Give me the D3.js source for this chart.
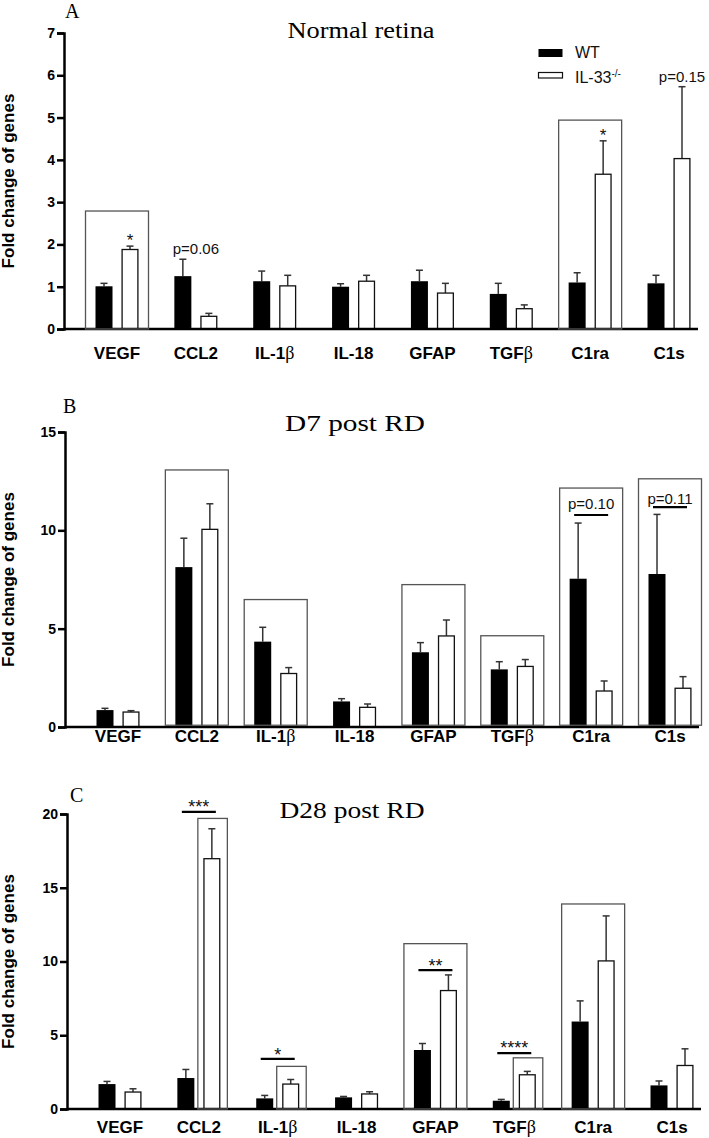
<!DOCTYPE html>
<html>
<head>
<meta charset="utf-8">
<script src="https://cdn.jsdelivr.net/npm/d3@7"></script>
<style>
  body { margin: 0; background: #fff; }
  svg { display: block; }
  .sans { font-family: "Liberation Sans", Arial, Helvetica, sans-serif; }
  .serif { font-family: "Liberation Serif", "Times New Roman", Times, serif; }
</style>
</head>
<body>
<svg id="chart" width="709" height="1138"></svg>
<script>
// genes on the x axis
const genes = ["VEGF", "CCL2", "IL-1β", "IL-18", "GFAP", "TGFβ", "C1ra", "C1s"];

// A - normal retina
const wtA     = [1.01, 1.25, 1.13, 1.00, 1.13, 0.83, 1.10, 1.08];
const wtSemA  = [0.07, 0.40, 0.24, 0.07, 0.26, 0.25, 0.23, 0.19];
const koA     = [1.88, 0.30, 1.02, 1.13, 0.85, 0.48, 3.66, 4.03];
const koSemA  = [0.08, 0.07, 0.25, 0.14, 0.23, 0.09, 0.79, 1.70];

// B - D7 post RD
const wtB     = [0.86, 8.13, 4.34, 1.30, 3.80, 2.93, 7.54, 7.78];
const wtSemB  = [0.09, 1.47, 0.73, 0.14, 0.49, 0.39, 2.83, 3.03];
const koB     = [0.76, 10.05, 2.72, 1.00, 4.63, 3.08, 1.83, 1.97];
const koSemB  = [0.07, 1.30, 0.30, 0.17, 0.81, 0.35, 0.51, 0.59];

// C - D28 post RD
const wtC     = [1.69, 2.10, 0.72, 0.79, 4.00, 0.56, 5.93, 1.60];
const wtSemC  = [0.18, 0.58, 0.20, 0.06, 0.44, 0.09, 1.40, 0.30];
const koC     = [1.15, 16.97, 1.69, 1.02, 8.03, 2.32, 10.04, 2.95];
const koSemC  = [0.22, 2.03, 0.31, 0.15, 1.06, 0.23, 3.05, 1.13];

// highlight frames (top / bottom in data units)
const framesA = [
  { gene: "VEGF", around: "both", top: 2.79, bottom: 0 },
  { gene: "C1ra", around: "both", top: 4.94, bottom: 0 }
];
const framesB = [
  { gene: "CCL2",  around: "both", top: 13.07, bottom: 0.09 },
  { gene: "IL-1β", around: "both", top: 6.48,  bottom: 0.09 },
  { gene: "GFAP",  around: "both", top: 7.24,  bottom: 0.09 },
  { gene: "TGFβ",  around: "both", top: 4.64,  bottom: 0.09 },
  { gene: "C1ra",  around: "both", top: 12.15, bottom: 0.09 },
  { gene: "C1s",   around: "both", top: 12.62, bottom: 0.09 }
];
const framesC = [
  { gene: "CCL2",  around: "ko",   top: 19.7,  bottom: 0 },
  { gene: "IL-1β", around: "ko",   top: 2.89,  bottom: 0 },
  { gene: "GFAP",  around: "both", top: 11.21, bottom: 0 },
  { gene: "TGFβ",  around: "ko",   top: 3.47,  bottom: 0 },
  { gene: "C1ra",  around: "both", top: 13.9,  bottom: 0 }
];

// significance labels (value = text baseline, line = bracket level)
const notesA = [
  { gene: "VEGF", text: "*",      at: "ko",  value: 1.97 },
  { gene: "CCL2", text: "p=0.06", at: "mid", value: 1.77 },
  { gene: "C1ra", text: "*",      at: "ko",  value: 4.45 },
  { gene: "C1s",  text: "p=0.15", at: "ko",  value: 5.85 }
];
const notesB = [
  { gene: "C1ra", text: "p=0.10", at: "mid", value: 11.08, line: 10.78 },
  { gene: "C1s",  text: "p=0.11", at: "mid", value: 11.34, line: 11.18 }
];
const notesC = [
  { gene: "CCL2",  text: "***",  at: "mid", value: 20.06, line: 20.15 },
  { gene: "IL-1β", text: "*",    at: "mid", value: 3.27,  line: 3.40 },
  { gene: "GFAP",  text: "**",   at: "mid", value: 9.32,  line: 9.41 },
  { gene: "TGFβ",  text: "****", at: "mid", value: 3.70,  line: 3.79 }
];

const panels = [
  { letter: "A", title: "Normal retina", titleX: 361, titleY: 38, titleLen: 147,
    letterX: 65, letterY: 18, x0: 64, yTop: 33, yBot: 329, max: 7, ticks: d3.range(0, 8),
    labelDy: 30, starSize: 17, wt: wtA, wtSem: wtSemA, ko: koA, koSem: koSemA, frames: framesA, notes: notesA },
  { letter: "B", title: "D7 post RD", titleX: 355, titleY: 431, titleLen: 140,
    letterX: 63, letterY: 413, x0: 65, yTop: 432, yBot: 727, max: 15, ticks: [0, 5, 10, 15],
    labelDy: 15, starSize: 17, wt: wtB, wtSem: wtSemB, ko: koB, koSem: koSemB, frames: framesB, notes: notesB },
  { letter: "C", title: "D28 post RD", titleX: 352, titleY: 818, titleLen: 145,
    letterX: 70, letterY: 802, x0: 67, yTop: 814, yBot: 1109, max: 20, ticks: [0, 5, 10, 15, 20],
    labelDy: 24, starSize: 18, wt: wtC, wtSem: wtSemC, ko: koC, koSem: koSemC, frames: framesC, notes: notesC }
];

const svg = d3.select("#chart");

panels.forEach(drawPanel);

function drawPanel(p) {
  const g = svg.append("g");
  const y = d3.scaleLinear().domain([0, p.max]).range([p.yBot, p.yTop]);
  const x = d3.scalePoint().domain(genes).range([p.x0 + 53, p.x0 + 605]);
  const sub = d3.scaleBand().domain(["wt", "ko"]).range([-21.5, 21.5]).paddingInner(0.346);
  const bw = sub.bandwidth();

  const rows = genes.map((gene, i) => ({
    gene: gene, wt: p.wt[i], wtSem: p.wtSem[i], ko: p.ko[i], koSem: p.koSem[i]
  }));
  const bars = [];
  rows.forEach(r => {
    bars.push({ gene: r.gene, grp: "wt", v: r.wt, sem: r.wtSem });
    bars.push({ gene: r.gene, grp: "ko", v: r.ko, sem: r.koSem });
  });
  const barX = d => x(d.gene) + sub(d.grp);

  // panel letter and title
  g.append("text").attr("class", "serif")
    .attr("x", p.letterX).attr("y", p.letterY)
    .attr("font-size", 20).text(p.letter);
  g.append("text").attr("class", "serif")
    .attr("x", p.titleX).attr("y", p.titleY)
    .attr("text-anchor", "middle")
    .attr("font-size", 23)
    .attr("textLength", p.titleLen).attr("lengthAdjust", "spacingAndGlyphs")
    .text(p.title);

  // y axis
  g.append("g")
    .attr("transform", `translate(${p.x0},0)`)
    .call(d3.axisLeft(y).tickValues(p.ticks).tickSize(7).tickPadding(2).tickFormat(d3.format("d")))
    .call(a => a.selectAll("path, line").attr("stroke", "#000").attr("stroke-width", 2.5))
    .call(a => a.selectAll("text")
      .attr("class", "sans").attr("font-size", 14).attr("font-weight", "bold").attr("fill", "#000"));

  g.append("text").attr("class", "sans")
    .attr("transform", `translate(14,${(p.yTop + p.yBot) / 2}) rotate(-90)`)
    .attr("text-anchor", "middle")
    .attr("font-size", 17).attr("font-weight", "bold")
    .text("Fold change of genes");

  // error bars
  const err = g.append("g").attr("stroke", "#333").attr("stroke-width", 1.5);
  err.selectAll("line.v").data(bars).join("line").attr("class", "v")
    .attr("x1", d => barX(d) + bw / 2).attr("x2", d => barX(d) + bw / 2)
    .attr("y1", d => y(d.v)).attr("y2", d => y(d.v + d.sem));
  err.selectAll("line.cap").data(bars).join("line").attr("class", "cap")
    .attr("x1", d => barX(d) + bw / 2 - 3.5).attr("x2", d => barX(d) + bw / 2 + 3.5)
    .attr("y1", d => y(d.v + d.sem)).attr("y2", d => y(d.v + d.sem));

  // bars
  g.selectAll("rect.bar").data(bars).join("rect").attr("class", "bar")
    .attr("x", d => d.grp === "wt" ? barX(d) : barX(d) + 0.6)
    .attr("width", d => d.grp === "wt" ? bw : bw - 1.2)
    .attr("y", d => y(d.v))
    .attr("height", d => y(0) - y(d.v))
    .attr("fill", d => d.grp === "wt" ? "#000" : "#fff")
    .attr("stroke", d => d.grp === "wt" ? "none" : "#111")
    .attr("stroke-width", 1.3);

  // x axis line
  g.append("line")
    .attr("x1", p.x0).attr("x2", p.x0 + 634)
    .attr("y1", y(0)).attr("y2", y(0))
    .attr("stroke", "#000").attr("stroke-width", 2.5);

  // category labels
  g.selectAll("text.cat").data(genes).join("text").attr("class", "cat sans")
    .attr("x", d => x(d)).attr("y", y(0) + p.labelDy)
    .attr("text-anchor", "middle")
    .attr("font-size", 17).attr("font-weight", "bold")
    .each(function(d) {
      const t = d3.select(this);
      const greek = d.indexOf("β");
      if (greek < 0) { t.text(d); return; }
      t.append("tspan").text(d.slice(0, greek));
      t.append("tspan").attr("class", "serif").attr("font-weight", "normal").attr("font-size", 18).text("β");
    });

  // highlight frames
  g.selectAll("rect.frame").data(p.frames).join("rect").attr("class", "frame")
    .attr("x", d => d.around === "ko" ? x(d.gene) + sub("ko") - 5.5 : x(d.gene) + sub("wt") - 10)
    .attr("width", d => d.around === "ko" ? bw + 12.5 : 2 * 21.5 + 20)
    .attr("y", d => y(d.top))
    .attr("height", d => y(d.bottom) - y(d.top))
    .attr("fill", "none").attr("stroke", "#555").attr("stroke-width", 1.3);

  // significance notes
  const noteX = d => d.at === "ko" ? x(d.gene) + sub("ko") + bw / 2
    : d.at === "wt" ? x(d.gene) + sub("wt") + bw / 2 : x(d.gene);
  g.selectAll("line.sig").data(p.notes.filter(d => d.line !== undefined)).join("line").attr("class", "sig")
    .attr("x1", d => x(d.gene) - 17).attr("x2", d => x(d.gene) + 17)
    .attr("y1", d => y(d.line)).attr("y2", d => y(d.line))
    .attr("stroke", "#000").attr("stroke-width", 2.2);
  g.selectAll("text.sig").data(p.notes).join("text").attr("class", "sig sans")
    .attr("x", noteX).attr("y", d => y(d.value))
    .attr("text-anchor", "middle")
    .attr("font-size", d => d.text[0] === "*" ? p.starSize : 15)
    .attr("fill", "#111")
    .text(d => d.text);
}

// legend
const legendItems = ["WT", "IL-33"];
const legend = svg.append("g").attr("class", "sans");
legend.selectAll("rect").data(legendItems).join("rect")
  .attr("x", 538.5).attr("width", 24)
  .attr("y", (d, i) => i === 0 ? 49 : 72.5)
  .attr("height", (d, i) => i === 0 ? 8 : 5.5)
  .attr("fill", (d, i) => i === 0 ? "#000" : "#fff")
  .attr("stroke", (d, i) => i === 0 ? "none" : "#111")
  .attr("stroke-width", 1.2);
legend.selectAll("text").data(legendItems).join("text")
  .attr("x", 575).attr("y", (d, i) => i === 0 ? 58 : 83)
  .attr("font-size", 16).attr("fill", "#111")
  .each(function(d, i) {
    const t = d3.select(this);
    t.append("tspan").text(d);
    if (i === 1) t.append("tspan").attr("font-size", 10).attr("dy", -6).text("-/-");
  });
</script>
</body>
</html>
